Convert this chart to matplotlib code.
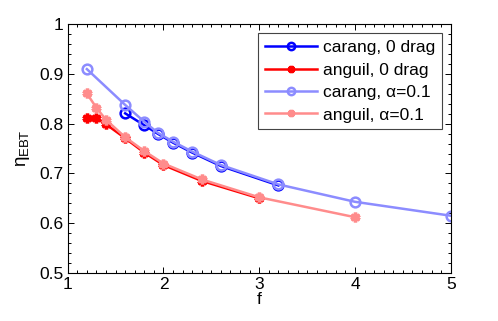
import matplotlib
matplotlib.use("Agg")
import matplotlib.pyplot as plt
from matplotlib.ticker import MultipleLocator

plt.rcParams['font.family'] = ['Liberation Sans', 'DejaVu Sans']
plt.rcParams['mathtext.fontset'] = 'custom'
plt.rcParams['mathtext.rm'] = 'Liberation Sans'
plt.rcParams['mathtext.it'] = 'Liberation Sans'

# Data
f_carang0 = [1.6, 1.8, 1.94, 2.1, 2.3, 2.6, 3.2]
eta_carang0 = [0.821, 0.797, 0.780, 0.762, 0.742, 0.715, 0.676]

f_anguil0 = [1.2, 1.3, 1.4, 1.6, 1.8, 2.0, 2.4, 3.0]
eta_anguil0 = [0.811, 0.811, 0.799, 0.771, 0.742, 0.717, 0.685, 0.650]

f_carang1 = [1.2, 1.6, 1.8, 1.94, 2.1, 2.3, 2.6, 3.2, 4.0, 5.0]
eta_carang1 = [0.910, 0.838, 0.804, 0.782, 0.764, 0.744, 0.717, 0.678, 0.643, 0.615]

f_anguil1 = [1.2, 1.3, 1.4, 1.6, 1.8, 2.0, 2.4, 3.0, 4.0]
eta_anguil1 = [0.861, 0.832, 0.808, 0.773, 0.745, 0.720, 0.688, 0.652, 0.612]

labels = ['carang, 0 drag', 'anguil, 0 drag', 'carang, \u03b1=0.1', 'anguil, \u03b1=0.1']

fig = plt.figure(figsize=(4.98, 3.21), dpi=100)
ax = fig.add_axes([0.136, 0.150, 0.769, 0.774])

ast = (6, 2, 0)
lw = 1.8
ax.plot(f_carang0, eta_carang0, color='#0000ff', lw=lw, marker='o', ms=7,
        mfc='none', mew=1.8, label=labels[0])
ax.plot(f_anguil0, eta_anguil0, color='#ff0000', lw=lw, marker=ast, ms=7,
        mew=2.5, label=labels[1])
ax.plot(f_carang1, eta_carang1, color='#8c8cff', lw=lw, marker='o', ms=7,
        mfc='none', mew=1.8, label=labels[2])
ax.plot(f_anguil1, eta_anguil1, color='#ff8c8c', lw=lw, marker=ast, ms=7,
        mew=2.5, label=labels[3])

fs = 12.5
ax.set_xlim(1, 5)
ax.set_ylim(0.5, 1)
ax.xaxis.set_major_locator(MultipleLocator(1))
ax.xaxis.set_minor_locator(MultipleLocator(0.1))
ax.yaxis.set_major_locator(MultipleLocator(0.1))
ax.yaxis.set_minor_locator(MultipleLocator(0.02))
ax.tick_params(which='both', direction='in', top=True, right=True, labelsize=fs)
ax.tick_params(which='major', length=4, width=0.7, pad=3)
ax.tick_params(which='minor', length=2, width=0.7)
ax.set_yticks([0.5, 0.6, 0.7, 0.8, 0.9, 1.0])
ax.set_yticklabels(['0.5', '0.6', '0.7', '0.8', '0.9', '1'])
for s in ax.spines.values():
    s.set_linewidth(0.8)

ax.set_xlabel('f', fontsize=fs, labelpad=0)
ax.set_ylabel(r'$\eta_{\mathrm{EBT}}$', fontsize=fs + 1, labelpad=5)

leg = ax.legend(loc='upper right', fontsize=fs, fancybox=False, edgecolor='#444444',
                framealpha=1, borderpad=0.4, labelspacing=0.42, handlelength=3.0,
                handletextpad=0.35, borderaxespad=0.5, markerscale=0.75)
leg.get_frame().set_linewidth(0.8)

fig.savefig('out.png', dpi=100)
